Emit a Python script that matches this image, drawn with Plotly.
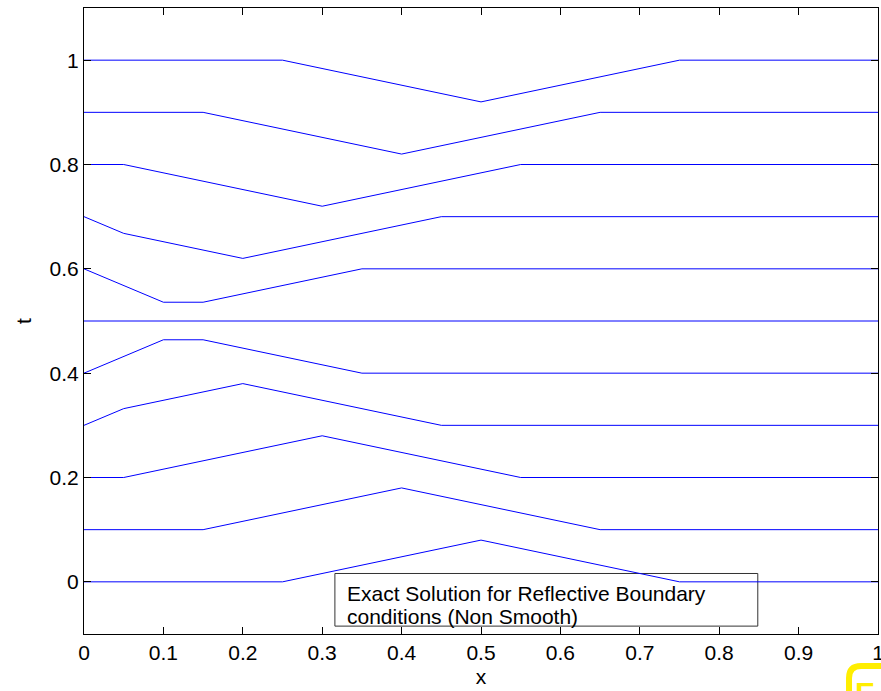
import plotly.graph_objects as go

# Time levels (each curve is offset vertically by its t value)
t_levels = [0.0, 0.1, 0.2, 0.3, 0.4, 0.5, 0.6, 0.7, 0.8, 0.9, 1.0]

# Vertices of each curve (x positions and plotted values)
x_t00 = [0, 0.25, 0.5, 0.75, 1]
y_t00 = [0, 0, 0.08, 0, 0]
x_t01 = [0, 0.15, 0.4, 0.65, 1]
y_t01 = [0.1, 0.1, 0.18, 0.1, 0.1]
x_t02 = [0, 0.05, 0.3, 0.55, 1]
y_t02 = [0.2, 0.2, 0.28, 0.2, 0.2]
x_t03 = [0, 0.05, 0.2, 0.45, 1]
y_t03 = [0.3, 0.332, 0.38, 0.3, 0.3]
x_t04 = [0, 0.1, 0.15, 0.35, 1]
y_t04 = [0.4, 0.464, 0.464, 0.4, 0.4]
x_t05 = [0, 1]
y_t05 = [0.5, 0.5]
x_t06 = [0, 0.1, 0.15, 0.35, 1]
y_t06 = [0.6, 0.536, 0.536, 0.6, 0.6]
x_t07 = [0, 0.05, 0.2, 0.45, 1]
y_t07 = [0.7, 0.668, 0.62, 0.7, 0.7]
x_t08 = [0, 0.05, 0.3, 0.55, 1]
y_t08 = [0.8, 0.8, 0.72, 0.8, 0.8]
x_t09 = [0, 0.15, 0.4, 0.65, 1]
y_t09 = [0.9, 0.9, 0.82, 0.9, 0.9]
x_t10 = [0, 0.25, 0.5, 0.75, 1]
y_t10 = [1.0, 1.0, 0.92, 1.0, 1.0]

curves_x = [x_t00, x_t01, x_t02, x_t03, x_t04, x_t05, x_t06, x_t07, x_t08, x_t09, x_t10]
curves_y = [y_t00, y_t01, y_t02, y_t03, y_t04, y_t05, y_t06, y_t07, y_t08, y_t09, y_t10]

x_ticks = [0, 0.1, 0.2, 0.3, 0.4, 0.5, 0.6, 0.7, 0.8, 0.9, 1]
x_tick_labels = ["0", "0.1", "0.2", "0.3", "0.4", "0.5", "0.6", "0.7", "0.8", "0.9", "1"]
y_ticks = [0, 0.2, 0.4, 0.6, 0.8, 1]
y_tick_labels = ["0", "0.2", "0.4", "0.6", "0.8", "1"]

legend_lines = ["Exact Solution for Reflective Boundary", "conditions (Non Smooth)"]

FONT = "Liberation Sans, Arial, Helvetica, sans-serif"
FS = 21

fig = go.Figure()
for t, xs, ys in zip(t_levels, curves_x, curves_y):
    fig.add_trace(go.Scatter(x=xs, y=ys, mode="lines",
                             line=dict(color="#0000ff", width=1),
                             name=f"t={t}", showlegend=False, hoverinfo="skip"))

axis_common = dict(showline=True, linecolor="black", linewidth=1, mirror="ticks",
                   ticks="inside", ticklen=7, tickcolor="black", tickwidth=1,
                   showgrid=False, zeroline=False, ticklabeloverflow="allow",
                   automargin=False,
                   tickfont=dict(family=FONT, size=FS, color="black"))

fig.update_xaxes(range=[0, 1], tickvals=x_ticks, ticktext=x_tick_labels,
                 title=dict(text="x", font=dict(family=FONT, size=FS, color="black"), standoff=6),
                 **axis_common)
fig.update_yaxes(range=[-0.1, 1.1], tickvals=y_ticks, ticktext=y_tick_labels,
                 title=dict(text="t", font=dict(family=FONT, size=FS, color="black"), standoff=12),
                 **axis_common)

# Legend-like text box
fig.add_shape(type="rect", xref="x", yref="y", x0=0.316, x1=0.8486, y0=-0.0849, y1=0.016,
              line=dict(color="#333333", width=1), fillcolor="rgba(0,0,0,0)", layer="below")
for i, txt in enumerate(legend_lines):
    fig.add_annotation(x=0.329, y=-0.0226 - 0.0446 * i, xref="x", yref="y",
                       text=txt, showarrow=False, xanchor="left", yanchor="middle",
                       font=dict(family=FONT, size=FS, color="black"))

# Yellow badge at bottom-right corner (partly outside the window)
fig.add_shape(type="path", xref="paper", yref="paper",
              path="M 0.9635 -0.106 L 0.9635 -0.0703 Q 0.9635 -0.0511 0.9786 -0.0511 L 1.03 -0.0511",
              line=dict(color="#ffee00", width=6))
fig.add_annotation(x=0.9685, y=-0.064, xref="paper", yref="paper", text="<b>E</b>",
                   showarrow=False, xanchor="left", yanchor="top",
                   font=dict(family=FONT, size=30, color="#ffee00"))

fig.update_layout(width=881, height=691, margin=dict(l=84, r=3, t=8, b=57),
                  plot_bgcolor="white", paper_bgcolor="white",
                  font=dict(family=FONT, size=FS, color="black"))

fig.write_html("out.html", config={"displayModeBar": False},
               post_script="document.body.style.margin='0';document.body.style.overflow='hidden';")
